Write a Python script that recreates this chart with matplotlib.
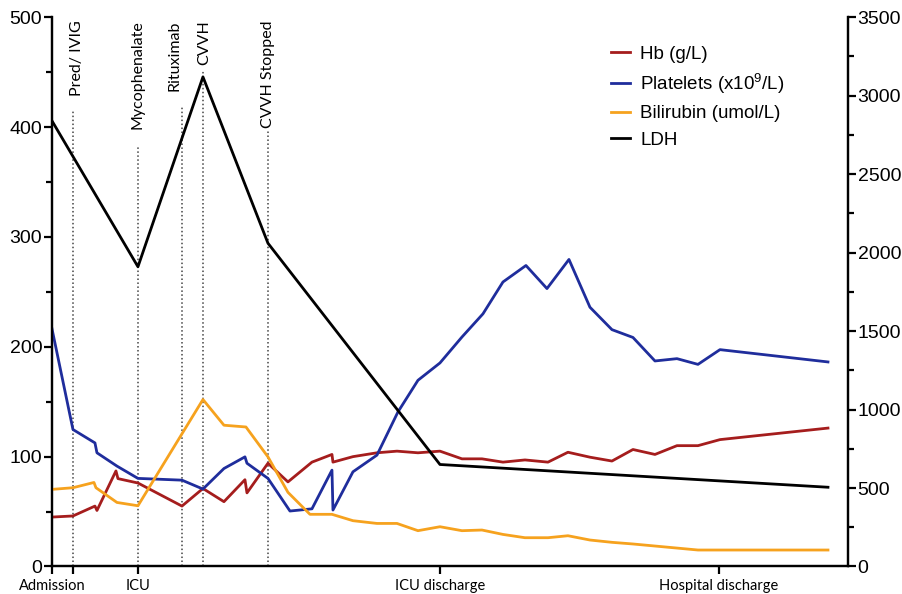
import numpy as np
import matplotlib.pyplot as plt
from matplotlib.ticker import MultipleLocator
from matplotlib.lines import Line2D

plt.rcParams['font.family'] = ['Liberation Sans', 'DejaVu Sans']
plt.rcParams['mathtext.fontset'] = 'custom'
plt.rcParams['mathtext.rm'] = 'Liberation Sans'
plt.rcParams['mathtext.it'] = 'Liberation Sans:italic'

# time position along the admission (arbitrary units)
hb_t = [0, 21, 43, 45, 64, 66, 86, 130, 151, 172, 193, 195, 216, 236, 260, 280, 281,
        301, 325, 345, 366, 388, 410, 430, 451, 473, 496, 516, 538, 560, 581, 603,
        625, 646, 668, 776]
hb = [45, 46, 55, 51, 87, 80, 76, 55, 71, 59, 79, 67, 94, 77, 95, 102, 95,
      100, 103.5, 105, 103.5, 105, 98, 98, 95, 97, 95, 104, 99.5, 96, 106.5, 102,
      110, 110, 115.5, 126]

plt_t = [0, 21, 43, 45, 65, 86, 130, 151, 172, 193, 195, 216, 238, 260, 280, 281,
         301, 325, 346, 366, 388, 410, 431, 451, 474, 495, 517, 538, 560, 581, 603,
         625, 646, 668, 776]
platelets = [216.5, 124.7, 112.5, 103.5, 91.4, 80.2, 78.6, 70.5, 89.2, 99.8, 94, 80.2,
             50.5, 52.5, 87.7, 51.4, 86.2, 101.4, 140.7, 169.5, 185.3, 208.9, 230,
             259, 274, 253, 279.5, 236, 215.6, 208.5, 187.1, 189.2, 184, 197.4, 186.2]

bili_t = [0, 21, 42, 44, 65, 86, 151, 172, 194, 216, 236, 258, 280, 301, 325, 345,
          366, 388, 410, 430, 451, 473, 496, 516, 538, 560, 581, 646, 776]
bilirubin = [70.2, 71.7, 76.5, 71.7, 58.3, 55.3, 152, 128.6, 127, 99.8, 67.5, 47.5,
             47.5, 41.7, 39.2, 39.2, 32.6, 36.2, 32.6, 33.2, 29.2, 26.2, 26.2, 28,
             24.1, 22, 20.5, 15, 15]

ldh_t = [0, 86, 151, 216, 388, 776]
ldh = [2840, 1910, 3120, 2060, 650, 505]

events = ['Pred/ IVIG', 'Mycophenalate', 'Rituximab', 'CVVH', 'CVVH Stopped']
event_t = [21, 86, 130, 151, 216]
event_top = [415, 383, 418, 451, 397]

tick_t = [0, 21, 86, 388, 667]
tick_labels = ['Admission', '', 'ICU', 'ICU discharge', 'Hospital discharge']

c_hb = '#a51d1d'
c_plt = '#1f2d9c'
c_bili = '#f6a21e'

fig = plt.figure(figsize=(9.02, 5.94), dpi=100)
ax = fig.add_axes([0.0576, 0.0463, 0.8825, 0.9247])
ax2 = ax.twinx()

for t, top in zip(event_t, event_top):
    ax.plot([t, t], [0, top], color='#444444', lw=1.1, ls=(0, (1, 1.6)), zorder=1)

label_shift = {'Pred/ IVIG': 4, 'Rituximab': -7, 'CVVH': 1}
for name, t in zip(events, event_t):
    ax.text(t + label_shift.get(name, 0), 497, name, rotation=90, ha='center', va='top',
            fontsize=11.5, family='Lato')

ax.plot(hb_t, hb, color=c_hb, lw=2, zorder=3)
ax.plot(plt_t, platelets, color=c_plt, lw=2, zorder=3)
ax.plot(bili_t, bilirubin, color=c_bili, lw=2, zorder=3)
ax2.plot(ldh_t, ldh, color='black', lw=2)

ax.set_xlim(0, 796)
ax.set_ylim(0, 500)
ax2.set_ylim(0, 3500)
ax.yaxis.set_major_locator(MultipleLocator(100))
ax.yaxis.set_minor_locator(MultipleLocator(50))
ax2.yaxis.set_major_locator(MultipleLocator(500))
ax2.yaxis.set_minor_locator(MultipleLocator(250))
ax.set_xticks(tick_t)
ax.set_xticklabels(tick_labels, family='Lato', fontsize=10.5)

for a in (ax, ax2):
    a.spines['top'].set_visible(False)
    for s in ('left', 'right', 'bottom'):
        a.spines[s].set_linewidth(1.6)
    a.tick_params(which='major', length=6, width=1.6, labelsize=14, pad=1)
    a.tick_params(which='minor', length=4, width=1.6)
ax.tick_params(axis='x', labelsize=10.5, pad=3)

handles = [Line2D([], [], color=c_hb, lw=2), Line2D([], [], color=c_plt, lw=2),
           Line2D([], [], color=c_bili, lw=2), Line2D([], [], color='black', lw=2)]
labels = ['Hb (g/L)', 'Platelets (x10$^9$/L)', 'Bilirubin (umol/L)', 'LDH']
fig.legend(handles, labels, loc='upper left', bbox_to_anchor=(0.659, 0.952), frameon=False,
           fontsize=13.5, handlelength=1.0, handletextpad=0.55, labelspacing=0.5)

fig.savefig('out.png', dpi=100)
